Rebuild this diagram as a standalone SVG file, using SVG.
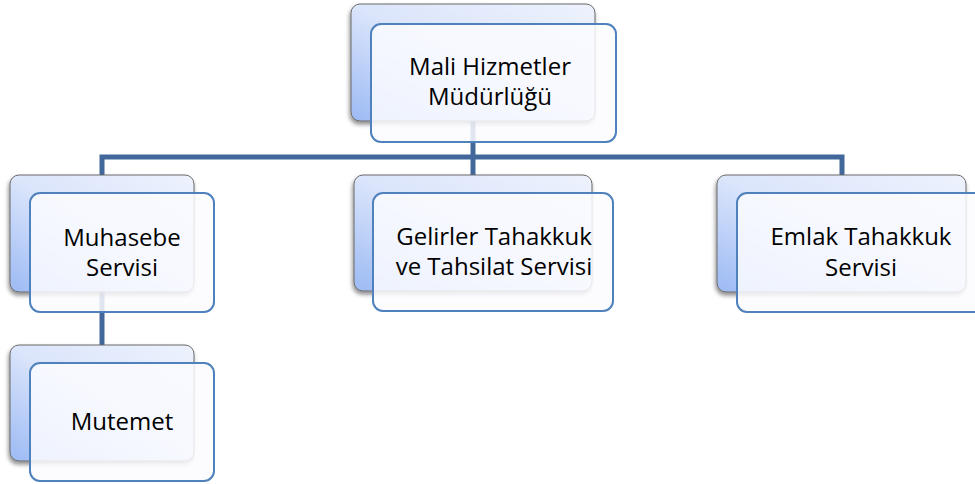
<svg xmlns="http://www.w3.org/2000/svg" width="975" height="484" viewBox="0 0 975 484">
<style>
.back{fill:url(#bg);stroke:#6b6b6b;stroke-width:1;filter:url(#sh)}
.front{fill:#fbfcff;fill-opacity:0.85;stroke:#4f81bd;stroke-width:2}
.lbl{font-family:"Open Sans","Noto Sans",sans-serif;font-size:24px;fill:#000;text-anchor:middle}
.con{fill:none;stroke:#42689b;stroke-width:5;stroke-linejoin:miter}
</style>
<defs>
<linearGradient id="bg" x1="1" y1="0" x2="0" y2="1">
<stop offset="0" stop-color="#edf2fd"/>
<stop offset="0.5" stop-color="#dbe5fb"/>
<stop offset="1" stop-color="#9cbaf4"/>
</linearGradient>
<filter id="sh" x="-10%" y="-10%" width="120%" height="130%">
<feDropShadow dx="-1" dy="3" stdDeviation="2" flood-color="#000" flood-opacity="0.45"/>
</filter>
<clipPath id="c1"><rect x="351" y="4" width="244" height="117"/></clipPath>
<clipPath id="c2"><rect x="10" y="175" width="184" height="117"/></clipPath>
<clipPath id="c3"><rect x="354" y="175" width="238" height="116"/></clipPath>
<clipPath id="c4"><rect x="717" y="175" width="249" height="117"/></clipPath>
<clipPath id="c5"><rect x="10" y="345" width="184" height="116"/></clipPath>
</defs>
<g id="connectors">
<path class="con" d="M102,175 V157 H842 V175"/>
<path class="con" d="M473,121 V175"/>
<path class="con" d="M102,292 V345"/>
</g>
<g id="mali">
<rect class="back" x="351" y="4" width="244" height="117" rx="9"/>
<rect class="front" x="371" y="24" width="245" height="118" rx="10"/>
<g clip-path="url(#c1)"><text class="lbl" x="490" y="75">Mali Hizmetler</text><text class="lbl" x="490" y="105">Müdürlüğü</text></g>
</g>
<g id="muhasebe">
<rect class="back" x="10" y="175" width="184" height="117" rx="9"/>
<rect class="front" x="30" y="193" width="184" height="119" rx="10"/>
<g clip-path="url(#c2)"><text class="lbl" x="122" y="246">Muhasebe</text><text class="lbl" x="122" y="276">Servisi</text></g>
</g>
<g id="gelirler">
<rect class="back" x="354" y="175" width="238" height="116" rx="9"/>
<rect class="front" x="373" y="193" width="240" height="118" rx="10"/>
<g clip-path="url(#c3)"><text class="lbl" x="494" y="245">Gelirler Tahakkuk</text><text class="lbl" x="494" y="275">ve Tahsilat Servisi</text></g>
</g>
<g id="emlak">
<rect class="back" x="717" y="175" width="249" height="117" rx="9"/>
<rect class="front" x="737" y="193" width="250" height="119" rx="10"/>
<g clip-path="url(#c4)"><text class="lbl" x="861" y="245">Emlak Tahakkuk</text><text class="lbl" x="861" y="276">Servisi</text></g>
</g>
<g id="mutemet">
<rect class="back" x="10" y="345" width="184" height="116" rx="9"/>
<rect class="front" x="30" y="363" width="184" height="118" rx="10"/>
<g clip-path="url(#c5)"><text class="lbl" x="122" y="430">Mutemet</text></g>
</g>
</svg>
